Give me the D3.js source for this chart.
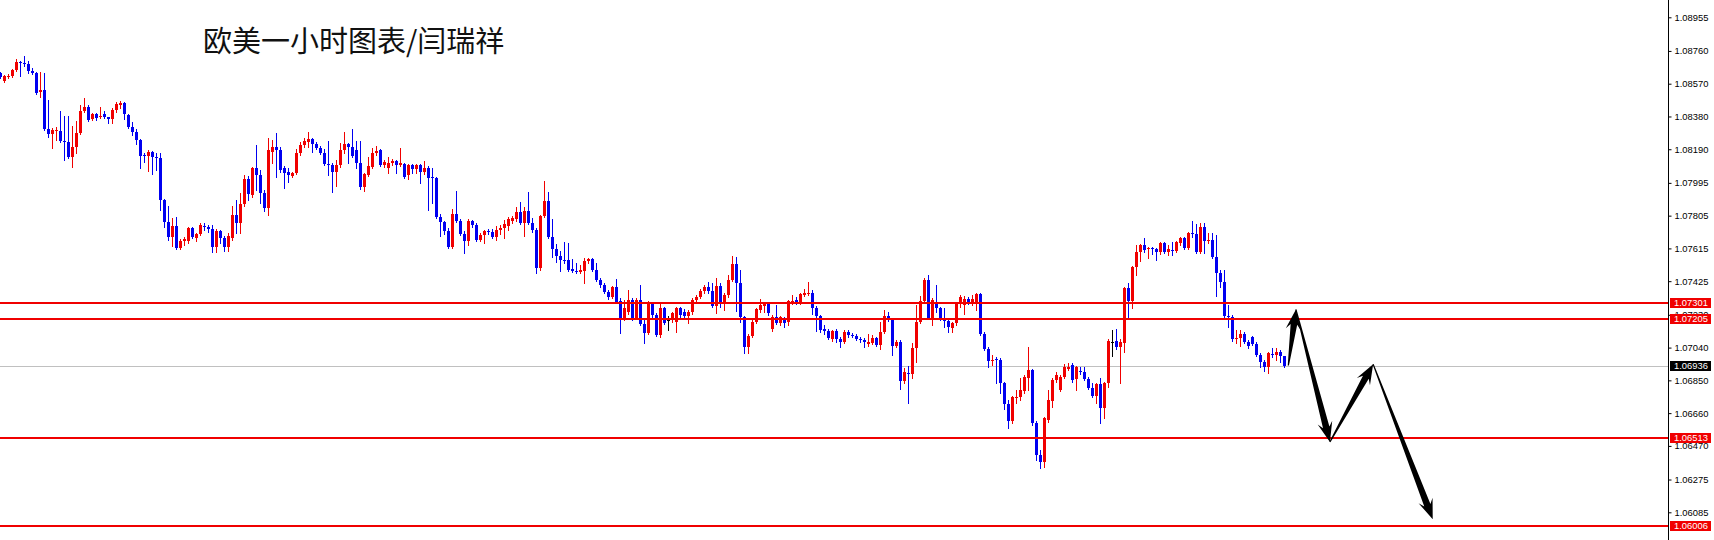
<!DOCTYPE html>
<html><head><meta charset="utf-8">
<script src="https://cdn.jsdelivr.net/npm/d3@7"></script>
<style>html,body{margin:0;padding:0;background:#fff;overflow:hidden}</style>
</head><body>
<svg id="c" width="1714" height="540"></svg>
<script>
// ---- data (EURUSD 1H) ----
const openP=[
1.08632,1.08585,1.08608,1.08614,1.08649,1.08695,1.08690,1.08684,1.08643,1.08632,
1.08521,1.08533,1.08307,1.08278,1.08295,1.08295,1.08237,1.08231,1.08144,1.08202,
1.08284,1.08411,1.08434,1.08365,1.08394,1.08376,1.08394,1.08376,1.08365,1.08417,
1.08446,1.08458,1.08388,1.08318,1.08289,1.08243,1.08156,1.08150,1.08173,1.08144,
1.08139,1.07895,1.07767,1.07680,1.07744,1.07617,1.07657,1.07657,1.07733,1.07675,
1.07698,1.07744,1.07738,1.07727,1.07622,1.07715,1.07675,1.07622,1.07675,1.07808,
1.07762,1.07872,1.08017,1.07924,1.08080,1.08040,1.07936,1.07849,1.08173,1.08202,
1.08185,1.08080,1.08057,1.08034,1.08052,1.08168,1.08214,1.08231,1.08249,1.08220,
1.08197,1.08168,1.08104,1.08098,1.08057,1.08098,1.08185,1.08220,1.08202,1.08185,
1.08110,1.07970,1.08040,1.08086,1.08168,1.08185,1.08098,1.08080,1.08110,1.08121,
1.08098,1.08104,1.08040,1.08098,1.08075,1.08098,1.08057,1.08080,1.08028,1.08023,
1.07796,1.07767,1.07715,1.07622,1.07814,1.07773,1.07698,1.07657,1.07773,1.07750,
1.07663,1.07692,1.07715,1.07709,1.07680,1.07721,1.07733,1.07744,1.07773,1.07785,
1.07825,1.07762,1.07831,1.07762,1.07721,1.07501,1.07802,1.07889,1.07680,1.07611,
1.07570,1.07547,1.07547,1.07495,1.07483,1.07478,1.07483,1.07541,1.07553,1.07489,
1.07431,1.07402,1.07361,1.07332,1.07391,1.07309,1.07211,1.07246,1.07315,1.07211,
1.07315,1.07176,1.07124,1.07292,1.07228,1.07112,1.07269,1.07199,1.07199,1.07188,
1.07269,1.07246,1.07222,1.07246,1.07315,1.07332,1.07367,1.07391,1.07367,1.07280,
1.07396,1.07303,1.07344,1.07431,1.07524,1.07414,1.07217,1.07043,1.07107,1.07188,
1.07257,1.07280,1.07292,1.07147,1.07217,1.07182,1.07211,1.07188,1.07303,1.07315,
1.07298,1.07344,1.07350,1.07356,1.07269,1.07222,1.07147,1.07136,1.07089,1.07136,
1.07089,1.07072,1.07130,1.07112,1.07107,1.07089,1.07083,1.07060,1.07066,1.07095,
1.07054,1.07130,1.07222,1.07199,1.07049,1.07072,1.06845,1.06892,1.06886,1.07037,
1.07188,1.07309,1.07431,1.07211,1.07303,1.07269,1.07211,1.07194,1.07153,1.07182,
1.07298,1.07286,1.07321,1.07298,1.07303,1.07350,1.07118,1.07031,1.06961,1.06973,
1.06967,1.06834,1.06712,1.06613,1.06747,1.06752,1.06787,1.06863,1.06909,1.06602,
1.06416,1.06376,1.06619,1.06729,1.06851,1.06793,1.06868,1.06915,1.06938,1.06857,
1.06903,1.06897,1.06857,1.06805,1.06758,1.06828,1.06689,1.06834,1.07072,1.07078,
1.07043,1.07066,1.07385,1.07309,1.07507,1.07593,1.07634,1.07611,1.07617,1.07611,
1.07593,1.07646,1.07593,1.07605,1.07599,1.07646,1.07675,1.07617,1.07704,1.07698,
1.07593,1.07738,1.07657,1.07663,1.07564,1.07472,1.07419,1.07222,1.07217,1.07089,
1.07095,1.07118,1.07072,1.07101,1.07060,1.06996,1.06955,1.06926,1.07002,1.06996,
1.07014,1.06990];
const highP=[
1.08637,1.08620,1.08626,1.08655,1.08713,1.08701,1.08730,1.08701,1.08661,1.08637,
1.08637,1.08632,1.08475,1.08313,1.08318,1.08411,1.08382,1.08382,1.08324,1.08353,
1.08446,1.08487,1.08446,1.08399,1.08399,1.08434,1.08411,1.08376,1.08429,1.08463,
1.08469,1.08463,1.08394,1.08347,1.08307,1.08249,1.08168,1.08185,1.08179,1.08168,
1.08168,1.07901,1.07860,1.07791,1.07796,1.07669,1.07680,1.07738,1.07738,1.07704,
1.07762,1.07762,1.07750,1.07750,1.07727,1.07721,1.07686,1.07704,1.07860,1.07895,
1.07936,1.08040,1.08034,1.08086,1.08214,1.08069,1.07953,1.08255,1.08243,1.08284,
1.08202,1.08092,1.08080,1.08057,1.08191,1.08231,1.08255,1.08289,1.08255,1.08231,
1.08208,1.08191,1.08237,1.08110,1.08127,1.08226,1.08289,1.08226,1.08307,1.08237,
1.08237,1.08052,1.08144,1.08197,1.08208,1.08191,1.08127,1.08144,1.08133,1.08127,
1.08197,1.08110,1.08104,1.08104,1.08104,1.08104,1.08121,1.08092,1.08080,1.08028,
1.07814,1.07773,1.07733,1.07843,1.07947,1.07785,1.07715,1.07785,1.07779,1.07762,
1.07704,1.07721,1.07727,1.07727,1.07744,1.07750,1.07779,1.07796,1.07802,1.07855,
1.07883,1.07855,1.07941,1.07791,1.07733,1.07808,1.08005,1.07941,1.07785,1.07640,
1.07599,1.07651,1.07646,1.07553,1.07530,1.07518,1.07559,1.07559,1.07559,1.07530,
1.07443,1.07414,1.07373,1.07396,1.07437,1.07327,1.07315,1.07373,1.07327,1.07327,
1.07402,1.07199,1.07309,1.07303,1.07240,1.07298,1.07274,1.07222,1.07246,1.07274,
1.07274,1.07263,1.07257,1.07327,1.07344,1.07379,1.07402,1.07419,1.07414,1.07443,
1.07414,1.07356,1.07460,1.07570,1.07564,1.07489,1.07222,1.07118,1.07199,1.07269,
1.07321,1.07303,1.07298,1.07228,1.07286,1.07222,1.07217,1.07315,1.07344,1.07332,
1.07356,1.07379,1.07419,1.07373,1.07280,1.07228,1.07170,1.07147,1.07141,1.07147,
1.07101,1.07141,1.07141,1.07124,1.07118,1.07101,1.07095,1.07118,1.07112,1.07101,
1.07188,1.07257,1.07246,1.07211,1.07083,1.07083,1.06921,1.06932,1.07066,1.07286,
1.07338,1.07443,1.07460,1.07327,1.07402,1.07274,1.07269,1.07205,1.07188,1.07303,
1.07344,1.07338,1.07332,1.07344,1.07356,1.07356,1.07130,1.07043,1.06996,1.06984,
1.06979,1.06839,1.06735,1.06758,1.06793,1.06863,1.06880,1.07043,1.06915,1.06613,
1.06445,1.06637,1.06793,1.06863,1.06897,1.06880,1.06944,1.06950,1.06950,1.06932,
1.06926,1.06926,1.06868,1.06834,1.06834,1.06863,1.06839,1.07089,1.07141,1.07147,
1.07089,1.07391,1.07414,1.07512,1.07634,1.07640,1.07675,1.07622,1.07622,1.07617,
1.07651,1.07651,1.07634,1.07651,1.07657,1.07680,1.07680,1.07709,1.07773,1.07756,
1.07762,1.07762,1.07704,1.07704,1.07692,1.07489,1.07489,1.07286,1.07228,1.07141,
1.07141,1.07130,1.07083,1.07107,1.07072,1.07008,1.06967,1.07014,1.07037,1.07037,
1.07025,1.06990];
const lowP=[
1.08603,1.08579,1.08603,1.08608,1.08643,1.08614,1.08672,1.08632,1.08626,1.08510,
1.08492,1.08301,1.08260,1.08197,1.08243,1.08231,1.08127,1.08139,1.08086,1.08168,
1.08278,1.08405,1.08353,1.08359,1.08359,1.08370,1.08370,1.08342,1.08342,1.08405,
1.08429,1.08365,1.08313,1.08272,1.08220,1.08080,1.08115,1.08063,1.08046,1.08069,
1.07837,1.07738,1.07663,1.07628,1.07611,1.07611,1.07634,1.07646,1.07675,1.07657,
1.07692,1.07721,1.07709,1.07593,1.07593,1.07646,1.07599,1.07599,1.07663,1.07704,
1.07704,1.07860,1.07895,1.07913,1.07953,1.07878,1.07831,1.07808,1.08110,1.08028,
1.08057,1.07965,1.07999,1.08028,1.08046,1.08156,1.08202,1.08202,1.08173,1.08191,
1.08162,1.08098,1.08040,1.07941,1.07976,1.08086,1.08168,1.08110,1.08144,1.08080,
1.07959,1.07947,1.08034,1.08080,1.08156,1.08092,1.08086,1.08052,1.08098,1.08052,
1.08092,1.08023,1.08017,1.08052,1.08052,1.07994,1.08046,1.07837,1.07878,1.07791,
1.07686,1.07698,1.07617,1.07617,1.07767,1.07692,1.07588,1.07634,1.07738,1.07657,
1.07657,1.07646,1.07698,1.07675,1.07663,1.07698,1.07675,1.07721,1.07762,1.07773,
1.07756,1.07686,1.07756,1.07709,1.07472,1.07489,1.07796,1.07675,1.07564,1.07536,
1.07483,1.07530,1.07483,1.07478,1.07472,1.07472,1.07414,1.07530,1.07483,1.07425,
1.07391,1.07356,1.07321,1.07327,1.07298,1.07124,1.07199,1.07234,1.07199,1.07205,
1.07170,1.07066,1.07118,1.07217,1.07107,1.07101,1.07176,1.07141,1.07188,1.07130,
1.07217,1.07217,1.07182,1.07234,1.07298,1.07327,1.07356,1.07356,1.07274,1.07240,
1.07274,1.07257,1.07332,1.07425,1.07251,1.07188,1.07008,1.07008,1.07101,1.07182,
1.07246,1.07246,1.07228,1.07136,1.07176,1.07170,1.07159,1.07170,1.07292,1.07292,
1.07292,1.07338,1.07344,1.07234,1.07136,1.07130,1.07118,1.07089,1.07078,1.07072,
1.07043,1.07066,1.07101,1.07101,1.07083,1.07072,1.07043,1.07049,1.07060,1.07049,
1.07031,1.07124,1.07194,1.06996,1.07043,1.06799,1.06834,1.06718,1.06863,1.06955,
1.07182,1.07298,1.07205,1.07170,1.07246,1.07199,1.07159,1.07130,1.07130,1.07170,
1.07274,1.07234,1.07292,1.07286,1.07257,1.07112,1.07025,1.06926,1.06938,1.06834,
1.06776,1.06683,1.06573,1.06602,1.06718,1.06735,1.06776,1.06793,1.06590,1.06387,
1.06341,1.06347,1.06607,1.06694,1.06839,1.06787,1.06863,1.06909,1.06839,1.06793,
1.06886,1.06851,1.06799,1.06752,1.06718,1.06602,1.06631,1.06810,1.06990,1.07031,
1.06834,1.07014,1.07211,1.07269,1.07460,1.07541,1.07593,1.07559,1.07582,1.07547,
1.07582,1.07588,1.07576,1.07576,1.07593,1.07634,1.07611,1.07611,1.07680,1.07588,
1.07588,1.07588,1.07646,1.07559,1.07338,1.07391,1.07217,1.07159,1.07078,1.07066,
1.07049,1.07066,1.07037,1.07054,1.06990,1.06926,1.06903,1.06892,1.06984,1.06967,
1.06955,1.06926];
const closeP=[
1.08608,1.08614,1.08614,1.08649,1.08695,1.08690,1.08684,1.08643,1.08632,1.08516,
1.08533,1.08307,1.08278,1.08301,1.08301,1.08237,1.08231,1.08144,1.08202,1.08284,
1.08411,1.08434,1.08359,1.08394,1.08370,1.08382,1.08376,1.08365,1.08417,1.08452,
1.08458,1.08394,1.08318,1.08289,1.08243,1.08150,1.08150,1.08173,1.08144,1.08139,
1.07895,1.07767,1.07680,1.07744,1.07617,1.07657,1.07669,1.07733,1.07680,1.07698,
1.07750,1.07738,1.07727,1.07622,1.07715,1.07675,1.07622,1.07686,1.07808,1.07762,
1.07872,1.08017,1.07930,1.08080,1.08040,1.07936,1.07849,1.08185,1.08202,1.08185,
1.08069,1.08052,1.08040,1.08052,1.08168,1.08214,1.08237,1.08249,1.08220,1.08197,
1.08168,1.08104,1.08098,1.08057,1.08098,1.08185,1.08220,1.08202,1.08150,1.08110,
1.07970,1.08046,1.08092,1.08168,1.08179,1.08098,1.08115,1.08110,1.08121,1.08098,
1.08110,1.08028,1.08098,1.08075,1.08098,1.08057,1.08080,1.08023,1.08023,1.07796,
1.07767,1.07715,1.07622,1.07814,1.07773,1.07698,1.07657,1.07773,1.07750,1.07663,
1.07692,1.07715,1.07709,1.07680,1.07721,1.07733,1.07756,1.07785,1.07791,1.07825,
1.07762,1.07831,1.07762,1.07721,1.07501,1.07802,1.07889,1.07680,1.07611,1.07570,
1.07547,1.07541,1.07489,1.07483,1.07478,1.07489,1.07541,1.07553,1.07489,1.07431,
1.07402,1.07361,1.07332,1.07391,1.07303,1.07211,1.07269,1.07315,1.07211,1.07315,
1.07176,1.07124,1.07298,1.07228,1.07112,1.07269,1.07182,1.07199,1.07240,1.07269,
1.07228,1.07222,1.07246,1.07315,1.07332,1.07367,1.07391,1.07367,1.07280,1.07396,
1.07303,1.07344,1.07431,1.07524,1.07414,1.07217,1.07043,1.07107,1.07188,1.07263,
1.07286,1.07292,1.07240,1.07217,1.07182,1.07217,1.07182,1.07309,1.07309,1.07298,
1.07350,1.07356,1.07356,1.07269,1.07222,1.07141,1.07136,1.07095,1.07136,1.07089,
1.07072,1.07130,1.07112,1.07107,1.07089,1.07083,1.07072,1.07072,1.07095,1.07054,
1.07130,1.07222,1.07199,1.07049,1.07072,1.06845,1.06897,1.06886,1.07037,1.07188,
1.07309,1.07431,1.07211,1.07315,1.07269,1.07211,1.07194,1.07159,1.07182,1.07298,
1.07332,1.07321,1.07303,1.07321,1.07350,1.07118,1.07031,1.06961,1.06967,1.06967,
1.06834,1.06712,1.06613,1.06752,1.06752,1.06793,1.06868,1.06909,1.06602,1.06416,
1.06376,1.06631,1.06735,1.06851,1.06880,1.06868,1.06926,1.06926,1.06851,1.06926,
1.06897,1.06857,1.06805,1.06758,1.06828,1.06689,1.06834,1.07078,1.07072,1.07043,
1.07072,1.07385,1.07309,1.07507,1.07593,1.07634,1.07605,1.07617,1.07611,1.07593,
1.07646,1.07593,1.07611,1.07599,1.07651,1.07675,1.07617,1.07704,1.07698,1.07593,
1.07738,1.07657,1.07663,1.07564,1.07472,1.07419,1.07222,1.07217,1.07089,1.07095,
1.07118,1.07072,1.07049,1.07060,1.06996,1.06955,1.06926,1.07008,1.06996,1.07014,
1.06990,1.06936];

const tickValues=[1.08955,1.08760,1.08570,1.08380,1.08190,1.07995,1.07805,1.07615,1.07425,1.07230,1.07040,1.06850,1.06660,1.06470,1.06275,1.06085];
const levelPrices=[1.07301,1.07205,1.06513,1.06006];
const lastPrice=1.06936;
const titleText="欧美一小时图表/闫瑞祥";
// projected path (bar index, price)
const arrowIdx=[322,323.9,332.4,343.2,358.1];
const arrowPrice=[1.06936,1.07261,1.06493,1.06944,1.06045];

// ---- drawing ----
const W=1714,H=540,axisX=1668;
const svg=d3.select("#c");
svg.append("rect").attr("width",W).attr("height",H).attr("fill","#fff");
const x=d3.scaleLinear().domain([0,321]).range([0.33,1284.33]);
const y=d3.scaleLinear().domain([1.08955,1.06085]).range([17.3,512.3]);
const RED="#f00000",BLUE="#0000f0";

// current price line
svg.append("line").attr("x1",0).attr("x2",axisX).attr("y1",Math.round(y(lastPrice))+0.5).attr("y2",Math.round(y(lastPrice))+0.5)
  .attr("stroke","#c0c0c0").attr("stroke-width",1);

// candles
const candles=d3.range(openP.length).map(i=>({i,o:openP[i],h:highP[i],l:lowP[i],c:closeP[i]}));
const g=svg.append("g").attr("shape-rendering","crispEdges");
candles.forEach(d=>{
  const col=d.c>d.o?RED:(d.c<d.o?BLUE:"#000");
  const cx=Math.round(x(d.i));
  const hi=Math.max(d.h,d.o,d.c), lo=Math.min(d.l,d.o,d.c);
  const yh=Math.round(y(hi)), yl=Math.round(y(lo));
  g.append("rect").attr("x",cx).attr("y",yh).attr("width",1).attr("height",Math.max(1,yl-yh+1)).attr("fill",col);
  const yt=Math.round(y(Math.max(d.o,d.c))), yb=Math.round(y(Math.min(d.o,d.c)));
  g.append("rect").attr("x",cx-1).attr("y",yt).attr("width",3).attr("height",Math.max(1,yb-yt)).attr("fill",col);
});

// level lines
levelPrices.forEach(p=>{
  svg.append("rect").attr("x",0).attr("y",Math.round(y(p))-1).attr("width",axisX).attr("height",2).attr("fill",RED);
});

// arrows
function arrowPoly(ax,ay,bx,by,hl,ws,wh){
  const L=Math.hypot(bx-ax,by-ay),ux=(bx-ax)/L,uy=(by-ay)/L,nx=-uy,ny=ux;
  const P=(t,w)=>[bx-ux*t+nx*w, by-uy*t+ny*w];
  return [[ax+nx*0.6,ay+ny*0.6],P(hl,ws),P(hl+5,wh),[bx,by],P(hl+5,-wh),P(hl,-ws),[ax-nx*0.6,ay-ny*0.6]];
}
for(let k=0;k<arrowIdx.length-1;k++){
  const ax=x(arrowIdx[k]),ay=y(arrowPrice[k]),bx=x(arrowIdx[k+1]),by=y(arrowPrice[k+1]);
  const pts=arrowPoly(ax,ay,bx,by,15,3.3,7.5);
  svg.append("polygon").attr("points",pts.map(p=>p.join(",")).join(" ")).attr("fill","#000");
}

// axis
svg.append("line").attr("x1",axisX+0.5).attr("x2",axisX+0.5).attr("y1",0).attr("y2",H).attr("stroke","#000").attr("stroke-width",1);
const ax=svg.append("g").attr("transform",`translate(${axisX+0.5},0)`)
  .call(d3.axisRight(y).tickValues(tickValues).tickSize(3).tickPadding(3).tickFormat(d3.format(".5f")));
ax.select(".domain").remove();
ax.selectAll("text").attr("font-family","'Liberation Sans',Arial,sans-serif").attr("font-size","9.4px").attr("fill","#000");
ax.selectAll("line").attr("stroke","#000");

// price boxes
function box(p,fill){
  const yy=Math.round(y(p));
  svg.append("rect").attr("x",axisX+2).attr("y",yy-5).attr("width",41).attr("height",10).attr("fill",fill);
  svg.append("text").attr("x",axisX+6).attr("y",yy).attr("dy","0.34em").attr("fill","#fff")
    .attr("font-family","'Liberation Sans',Arial,sans-serif").attr("font-size","9.4px").text(d3.format(".5f")(p));
}
levelPrices.forEach(p=>box(p,RED));
box(lastPrice,"#000");

// title
svg.append("text").attr("x",203).attr("y",52).attr("font-family","'Noto Sans CJK SC',sans-serif")
  .attr("font-size","29px").attr("fill","#111").text(titleText);
</script>
</body></html>
